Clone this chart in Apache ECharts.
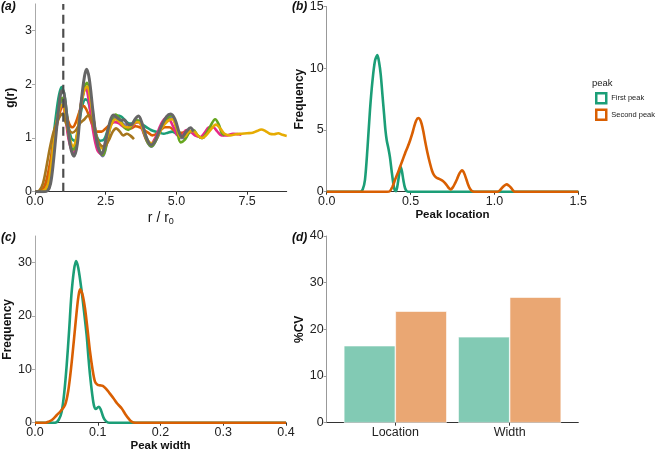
<!DOCTYPE html>
<html>
<head>
<meta charset="utf-8">
<script src="https://cdn.jsdelivr.net/npm/echarts@6/dist/echarts.min.js"></script>
<style>
  html, body { margin: 0; padding: 0; background: #fff; }
  #chart { width: 664px; height: 458px; }
</style>
</head>
<body>
<div id="chart"></div>
<script>
// (a) pair distribution g(r) per sample, [r/r0, g(r)]
const grTeal = [[0, 0], [0.3, 0.02], [0.45, 0.15], [0.55, 0.5], [0.65, 1.0], [0.75, 1.45], [0.85, 1.8], [0.94, 1.95], [1.04, 1.8], [1.15, 1.35], [1.28, 1.0], [1.4, 0.95], [1.52, 1.15], [1.65, 1.55], [1.78, 1.72], [1.88, 1.68], [2.0, 1.4], [2.15, 1.08], [2.3, 0.95], [2.45, 0.98], [2.6, 1.2], [2.75, 1.38], [2.9, 1.42], [3.05, 1.4], [3.2, 1.32], [3.35, 1.27], [3.5, 1.28], [3.65, 1.3], [3.8, 1.25], [3.95, 1.2], [4.1, 1.15], [4.25, 1.12], [4.4, 1.1], [4.55, 1.08], [4.7, 1.1], [4.85, 1.12], [5.0, 1.08]]
const grOrange = [[0, 0], [0.2, 0.02], [0.35, 0.12], [0.5, 0.45], [0.65, 0.9], [0.8, 1.3], [0.92, 1.55], [1.0, 1.6], [1.1, 1.45], [1.22, 1.25], [1.33, 1.2], [1.45, 1.3], [1.58, 1.5], [1.7, 1.6], [1.8, 1.55], [1.92, 1.4], [2.05, 1.22], [2.2, 1.12], [2.35, 1.12], [2.5, 1.18], [2.65, 1.25], [2.8, 1.3], [2.95, 1.3], [3.1, 1.25], [3.25, 1.2], [3.4, 1.18], [3.55, 1.22], [3.7, 1.2], [3.85, 1.15], [4.0, 1.1], [4.15, 1.05], [4.3, 1.08], [4.45, 1.15], [4.6, 1.2], [4.75, 1.2], [4.9, 1.15], [5.05, 1.1], [5.2, 1.1], [5.3, 1.12]]
const grPurple = [[0, 0], [0.3, 0.01], [0.45, 0.08], [0.55, 0.3], [0.65, 0.75], [0.75, 1.2], [0.87, 1.6], [0.97, 1.72], [1.07, 1.5], [1.2, 1.0], [1.35, 0.7], [1.48, 0.95], [1.62, 1.55], [1.75, 1.9], [1.84, 1.95], [1.95, 1.72], [2.1, 1.2], [2.25, 0.78], [2.4, 0.66], [2.55, 0.92], [2.7, 1.28], [2.85, 1.38], [3.0, 1.32], [3.15, 1.25], [3.3, 1.2], [3.45, 1.25], [3.6, 1.32], [3.72, 1.3], [3.85, 1.1], [4.0, 0.9], [4.12, 0.84], [4.3, 0.98], [4.5, 1.22], [4.7, 1.36], [4.85, 1.38], [5.0, 1.2], [5.15, 1.0], [5.3, 1.0], [5.45, 1.1], [5.6, 1.12], [5.75, 1.04], [5.9, 1.0], [6.0, 1.02]]
const grPink = [[0, 0], [0.3, 0.01], [0.45, 0.1], [0.55, 0.35], [0.65, 0.8], [0.75, 1.2], [0.87, 1.55], [0.97, 1.6], [1.07, 1.4], [1.2, 0.95], [1.35, 0.72], [1.48, 0.95], [1.6, 1.55], [1.72, 1.88], [1.8, 1.92], [1.9, 1.7], [2.05, 1.15], [2.2, 0.78], [2.35, 0.7], [2.5, 0.95], [2.65, 1.22], [2.8, 1.3], [2.95, 1.28], [3.1, 1.22], [3.25, 1.18], [3.4, 1.2], [3.55, 1.28], [3.68, 1.3], [3.8, 1.15], [3.95, 0.95], [4.08, 0.88], [4.25, 1.0], [4.45, 1.25], [4.62, 1.37], [4.75, 1.35], [4.9, 1.2], [5.05, 1.05], [5.2, 1.05], [5.35, 1.15], [5.5, 1.12], [5.65, 1.05], [5.85, 1.02], [6.0, 1.1], [6.15, 1.2], [6.3, 1.2], [6.45, 1.12], [6.6, 1.05], [6.8, 1.05], [7.0, 1.08], [7.2, 1.07], [7.3, 1.06]]
const grGreen = [[0, 0], [0.3, 0.01], [0.45, 0.08], [0.55, 0.3], [0.65, 0.75], [0.75, 1.2], [0.87, 1.6], [0.97, 1.75], [1.07, 1.55], [1.2, 1.05], [1.35, 0.78], [1.48, 1.0], [1.62, 1.6], [1.75, 1.95], [1.84, 2.03], [1.95, 1.8], [2.1, 1.25], [2.25, 0.82], [2.4, 0.68], [2.55, 0.95], [2.7, 1.32], [2.85, 1.44], [3.0, 1.35], [3.15, 1.2], [3.3, 1.15], [3.45, 1.25], [3.6, 1.33], [3.72, 1.3], [3.85, 1.1], [4.0, 0.9], [4.12, 0.85], [4.3, 0.98], [4.5, 1.22], [4.7, 1.38], [4.85, 1.42], [5.0, 1.2], [5.15, 0.92], [5.3, 0.97], [5.45, 1.1], [5.6, 1.15], [5.75, 1.05], [5.9, 1.0], [6.05, 1.08], [6.2, 1.22], [6.37, 1.35], [6.5, 1.25], [6.6, 1.1], [6.7, 1.05]]
const grYellow = [[0, 0], [0.3, 0.02], [0.45, 0.12], [0.55, 0.4], [0.65, 0.85], [0.75, 1.25], [0.87, 1.55], [0.97, 1.62], [1.07, 1.45], [1.2, 1.05], [1.35, 0.85], [1.48, 1.05], [1.62, 1.6], [1.75, 1.9], [1.85, 1.96], [1.95, 1.75], [2.1, 1.25], [2.25, 0.88], [2.4, 0.8], [2.55, 1.0], [2.7, 1.25], [2.85, 1.35], [3.0, 1.3], [3.15, 1.22], [3.3, 1.2], [3.45, 1.25], [3.6, 1.3], [3.72, 1.28], [3.85, 1.12], [4.0, 0.95], [4.12, 0.9], [4.3, 1.0], [4.5, 1.2], [4.7, 1.32], [4.85, 1.35], [5.0, 1.2], [5.15, 1.02], [5.3, 1.03], [5.45, 1.12], [5.6, 1.13], [5.75, 1.05], [5.9, 1.0], [6.05, 1.05], [6.2, 1.15], [6.4, 1.25], [6.55, 1.18], [6.7, 1.08], [6.9, 1.05], [7.1, 1.07], [7.3, 1.08], [7.5, 1.09], [7.7, 1.1], [7.85, 1.13], [8.0, 1.16], [8.15, 1.13], [8.3, 1.08], [8.45, 1.07], [8.6, 1.09], [8.75, 1.06], [8.9, 1.04]]
const grBrown = [[0, 0], [0.15, 0.02], [0.28, 0.15], [0.4, 0.45], [0.52, 0.8], [0.65, 1.1], [0.78, 1.3], [0.9, 1.42], [0.98, 1.45], [1.08, 1.3], [1.2, 1.15], [1.32, 1.1], [1.45, 1.15], [1.6, 1.28], [1.75, 1.35], [1.9, 1.43], [2.0, 1.35], [2.15, 1.05], [2.3, 0.88], [2.45, 0.84], [2.6, 0.95], [2.75, 1.12], [2.87, 1.18], [3.0, 1.12], [3.12, 1.05], [3.25, 1.08], [3.38, 1.04], [3.5, 0.98]]
const grGrey = [[0, 0], [0.3, 0], [0.45, 0.02], [0.55, 0.15], [0.65, 0.55], [0.75, 1.1], [0.85, 1.6], [0.95, 1.88], [1.02, 1.85], [1.12, 1.45], [1.25, 0.85], [1.38, 0.66], [1.5, 0.9], [1.62, 1.6], [1.75, 2.15], [1.83, 2.28], [1.92, 2.1], [2.05, 1.5], [2.2, 0.9], [2.36, 0.7], [2.5, 0.95], [2.65, 1.3], [2.77, 1.43], [2.9, 1.38], [3.05, 1.33], [3.15, 1.34], [3.3, 1.25], [3.4, 1.25], [3.55, 1.36], [3.66, 1.41], [3.8, 1.25], [3.95, 1.0], [4.1, 0.87], [4.25, 0.95], [4.45, 1.2], [4.65, 1.4], [4.8, 1.45], [4.95, 1.35], [5.1, 1.1], [5.2, 1.02], [5.35, 1.12], [5.5, 1.19], [5.6, 1.12]]
const grCurves = [grTeal, grOrange, grPurple, grPink, grGreen, grYellow, grBrown, grGrey]
const grColors = ['#1b9e77', '#d95f02', '#7570b3', '#e7298a', '#66a61e', '#e6ab02', '#a6761d', '#666666']
const cutoff = 1

// (b) density of peak location
const locFirst = [[0, 0], [0.2, 0], [0.215, 0.2], [0.228, 0.94], [0.243, 3.5], [0.258, 6.6], [0.273, 9.0], [0.288, 10.6], [0.302, 11.06], [0.312, 10.5], [0.322, 9.5], [0.332, 7.9], [0.342, 6.3], [0.35, 5.0], [0.358, 4.15], [0.368, 3.5], [0.377, 2.8], [0.387, 1.7], [0.397, 0.67], [0.405, 0.15], [0.413, 0.05], [0.42, 0.35], [0.427, 0.94], [0.435, 1.7], [0.441, 2.0], [0.448, 1.7], [0.457, 0.94], [0.467, 0.3], [0.477, 0.05], [0.49, 0], [1.5, 0]]
const locSecond = [[0, 0], [0.36, 0], [0.377, 0.05], [0.392, 0.4], [0.407, 0.94], [0.422, 1.45], [0.437, 2.0], [0.452, 2.55], [0.467, 3.1], [0.482, 3.6], [0.497, 4.15], [0.51, 4.7], [0.52, 5.2], [0.533, 5.75], [0.546, 5.97], [0.556, 5.85], [0.566, 5.5], [0.576, 4.9], [0.586, 4.15], [0.6, 3.2], [0.616, 2.28], [0.628, 1.7], [0.64, 1.34], [0.653, 1.15], [0.666, 1.07], [0.685, 0.94], [0.7, 0.78], [0.715, 0.54], [0.728, 0.3], [0.739, 0.19], [0.752, 0.35], [0.765, 0.67], [0.778, 1.05], [0.791, 1.47], [0.807, 1.74], [0.816, 1.6], [0.824, 1.34], [0.834, 0.95], [0.844, 0.54], [0.854, 0.25], [0.864, 0.08], [0.88, 0], [1.02, 0], [1.032, 0.1], [1.043, 0.27], [1.058, 0.48], [1.073, 0.59], [1.085, 0.5], [1.097, 0.35], [1.108, 0.15], [1.12, 0], [1.5, 0]]

// (c) density of peak width
const widthFirst = [[0, 0], [0.032, 0], [0.038, 0.6], [0.0425, 2.06], [0.0465, 5.5], [0.0505, 10.8], [0.0545, 17.5], [0.058, 23.9], [0.062, 28.5], [0.0653, 30.3], [0.069, 29.0], [0.0744, 24.6], [0.078, 21.0], [0.0823, 16.4], [0.085, 12.5], [0.0877, 8.9], [0.091, 5.5], [0.094, 3.2], [0.097, 2.6], [0.0995, 2.8], [0.102, 3.0], [0.105, 2.4], [0.109, 1.0], [0.113, 0.3], [0.118, 0], [0.4, 0]]
const widthSecond = [[0, 0], [0.017, 0], [0.022, 0.2], [0.028, 0.6], [0.0345, 1.4], [0.041, 2.2], [0.0478, 3.3], [0.053, 6.0], [0.058, 10.8], [0.062, 15.5], [0.0664, 20.8], [0.069, 23.5], [0.0717, 25.0], [0.0757, 24.0], [0.0797, 21.4], [0.0837, 17.5], [0.0877, 13.3], [0.0917, 10.0], [0.0956, 7.7], [0.0996, 7.1], [0.1036, 7.0], [0.108, 6.9], [0.113, 6.4], [0.119, 5.5], [0.125, 4.6], [0.131, 3.6], [0.138, 2.7], [0.144, 1.6], [0.149, 0.8], [0.154, 0.2], [0.16, 0], [0.4, 0]]

// (d) coefficient of variation
const cvCategories = ['Location', 'Width']
const cvFirst = [16.5, 18.4]
const cvSecond = [23.9, 26.9]

const peakNames = ['First peak', 'Second peak']
const peakColors = ['#1b9e77', '#d95f02']
const barColors = ['#82cab4', '#eaa773']

// tick positions
const rTicks = [0, 2.5, 5, 7.5]
const grTicks = [0, 1, 2, 3]
const locTicks = [0, 0.5, 1, 1.5]
const locFreqTicks = [0, 5, 10, 15]
const widthTicks = [0, 0.1, 0.2, 0.3, 0.4]
const widthFreqTicks = [0, 10, 20, 30]
const cvTicks = [0, 10, 20, 30, 40]
const cvPositions = [1, 2]

const sans = 'Liberation Sans, Arial, Helvetica, sans-serif'

function axis (gridIndex, min, max, ticks, fmt, lineColor, extra) {
  return Object.assign({
    type: 'value',
    gridIndex,
    min,
    max,
    axisLine: { show: true, lineStyle: { color: lineColor, width: 1 } },
    axisTick: { show: true, length: 3, customValues: ticks, lineStyle: { color: lineColor } },
    axisLabel: { customValues: ticks, formatter: fmt, color: '#222', fontSize: 12.5, margin: 3, fontFamily: sans },
    splitLine: { show: false },
    nameLocation: 'middle',
    nameTextStyle: { color: '#111', fontSize: 12, fontWeight: 'bold', fontFamily: sans }
  }, extra)
}

const oneDec = v => v.toFixed(1)
const integer = v => String(Math.round(v))

const series = []

grCurves.forEach((curve, i) => {
  series.push({
    type: 'line',
    xAxisIndex: 0,
    yAxisIndex: 0,
    data: curve,
    smooth: 0.35,
    showSymbol: false,
    symbol: 'none',
    silent: true,
    lineStyle: { color: grColors[i], width: i === 7 ? 3 : 2.6 }
  })
})

series.push({
  type: 'line',
  xAxisIndex: 0,
  yAxisIndex: 0,
  data: [[cutoff, 0], [cutoff, 3.5]],
  showSymbol: false,
  symbol: 'none',
  silent: true,
  lineStyle: { color: '#4d4d4d', width: 2.2, type: [9, 5] }
})

const densB = [locFirst, locSecond]
const densC = [widthFirst, widthSecond]
peakNames.forEach((name, i) => {
  series.push({
    name,
    type: 'line',
    xAxisIndex: 1,
    yAxisIndex: 1,
    data: densB[i],
    smooth: 0.3,
    showSymbol: false,
    symbol: 'none',
    lineStyle: { color: peakColors[i], width: 2.6 },
    itemStyle: { color: peakColors[i] }
  })
  series.push({
    name,
    type: 'line',
    xAxisIndex: 2,
    yAxisIndex: 2,
    data: densC[i],
    smooth: 0.3,
    showSymbol: false,
    symbol: 'none',
    lineStyle: { color: peakColors[i], width: 2.6 },
    itemStyle: { color: peakColors[i] }
  })
})

const cvValues = [cvFirst, cvSecond]
peakNames.forEach((name, i) => {
  series.push({
    name,
    type: 'bar',
    xAxisIndex: 3,
    yAxisIndex: 3,
    data: cvPositions.map((p, j) => [p, cvValues[i][j]]),
    barWidth: 51.5,
    barGap: '0%',
    itemStyle: { color: barColors[i], borderColor: '#fff', borderWidth: 0.6 }
  })
})

const option = {
  backgroundColor: '#fff',
  animation: false,
  title: [
    { text: '(a)', left: 1, top: 1 },
    { text: '(b)', left: 292, top: 1 },
    { text: '(c)', left: 1, top: 232 },
    { text: '(d)', left: 292, top: 232 },
    { text: 'peak', left: 592, top: 78, textStyle: { fontSize: 9.5, fontWeight: 'normal', fontStyle: 'normal', color: '#222', fontFamily: sans } }
  ].map(t => Object.assign({ padding: 0, textStyle: { fontSize: 12, fontWeight: 'bold', fontStyle: 'italic', color: '#111', fontFamily: sans } }, t)),
  legend: {
    left: 595,
    top: 92,
    orient: 'vertical',
    itemWidth: 10,
    itemHeight: 10,
    itemGap: 4,
    padding: 0,
    icon: 'rect',
    selectedMode: false,
    textStyle: { fontSize: 7.5, color: '#222', fontFamily: sans },
    data: peakNames.map((name, i) => ({
      name,
      itemStyle: { color: '#fff', borderColor: peakColors[i], borderWidth: 2.5 }
    }))
  },
  grid: [
    { left: 35, right: 377.3, top: 3.9, bottom: 266.3 },
    { left: 326.7, right: 85.7, top: 5, bottom: 266.3 },
    { left: 35, right: 378, top: 236, bottom: 35.3 },
    { left: 326.7, right: 85.7, top: 236, bottom: 35.3 }
  ],
  xAxis: [
    axis(0, 0, 8.9, rTicks, oneDec, '#333', {
      name: 'r / r{sub|0}',
      nameGap: 18,
      nameTextStyle: { color: '#111', fontSize: 14, fontFamily: sans, rich: { sub: { fontSize: 9, verticalAlign: 'bottom', padding: [7, 0, 0, 0], fontFamily: sans, color: '#111' } } }
    }),
    axis(1, 0, 1.5, locTicks, oneDec, '#333', { name: 'Peak location', nameGap: 16, nameTextStyle: { color: '#111', fontSize: 11.5, fontWeight: 'bold', fontFamily: sans } }),
    axis(2, 0, 0.4, widthTicks, oneDec, '#333', { name: 'Peak width', nameGap: 17, nameTextStyle: { color: '#111', fontSize: 11.5, fontWeight: 'bold', fontFamily: sans } }),
    axis(3, 0.4, 2.6, cvPositions, v => cvCategories[cvPositions.indexOf(v)] || '', '#333', {})
  ],
  yAxis: [
    axis(0, 0, 3.5, grTicks, integer, '#aaa', { name: 'g(r)', nameGap: 18 }),
    axis(1, 0, 15, locFreqTicks, integer, '#999', { name: 'Frequency', nameGap: 21 }),
    axis(2, 0, 35, widthFreqTicks, integer, '#aaa', { name: 'Frequency', nameGap: 21 }),
    axis(3, 0, 40, cvTicks, integer, '#999', { name: '%CV', nameGap: 21 })
  ],
  series
}

const chart = echarts.init(document.getElementById('chart'), null, { renderer: 'canvas' })
chart.setOption(option)
</script>
</body>
</html>
